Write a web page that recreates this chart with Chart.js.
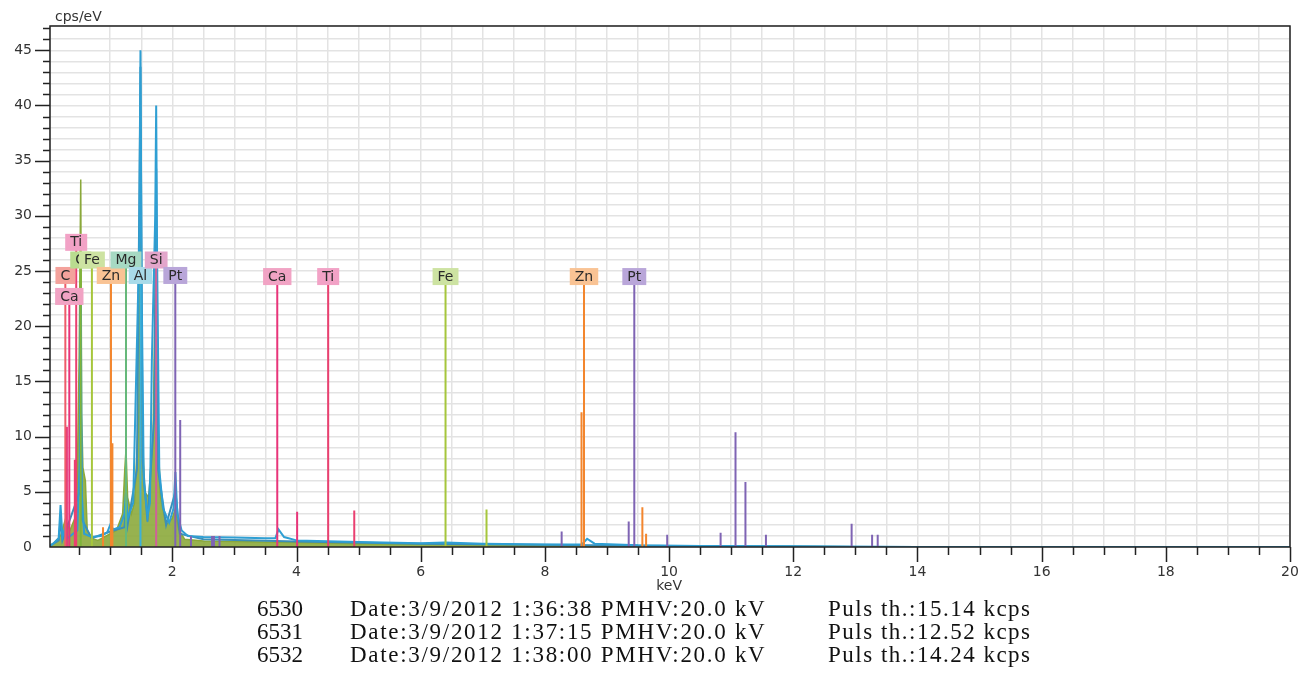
<!DOCTYPE html>
<html>
<head>
<meta charset="utf-8">
<title>EDS spectra</title>
<script src="https://cdn.jsdelivr.net/npm/chart.js@4.4.1/dist/chart.umd.min.js"></script>
<style>
  body { margin: 0; background: #fff; width: 1303px; height: 689px; overflow: hidden; position: relative; }
  #edsChart { position: absolute; left: 0; top: 0; }
  .info { position: absolute; font-family: "Liberation Serif", "Times New Roman", serif; font-size: 23px; line-height: 23px; color: #111; white-space: nowrap; }
</style>
</head>
<body>
<canvas id="edsChart" width="1303" height="600"></canvas>
<div id="info"></div>
<script>
/* ============================
   EDS SPECTRA (cps/eV vs keV)
============================ */

// ======== SPECTRA [keV, cps/eV] ========
const spec6530 = [
    [0, 0], [0.08, 0.3], [0.17, 0.8], [0.2, 3.8], [0.23, 0.9], [0.277, 1.8], [0.31, 0.8],
    [0.47, 1.5], [0.51, 8], [0.525, 23.5], [0.54, 5], [0.58, 1.2], [0.7, 0.9], [0.85, 1.0],
    [0.95, 1.3], [1.0, 2.0], [1.05, 1.6], [1.15, 1.8], [1.23, 3.0], [1.254, 5.0], [1.28, 2.6],
    [1.37, 4], [1.41, 13.6], [1.47, 28], [1.487, 45], [1.505, 24], [1.54, 6], [1.6, 2.8],
    [1.64, 4], [1.67, 16.8], [1.725, 30], [1.74, 40], [1.755, 26], [1.79, 7], [1.85, 3.5],
    [1.95, 2.2], [2.02, 3.5], [2.05, 6.8], [2.08, 3], [2.15, 1.5], [2.25, 1.0], [2.5, 0.9],
    [3.0, 0.85], [3.5, 0.8], [3.66, 0.8], [3.71, 1.6], [3.8, 0.9], [4.0, 0.6], [5.0, 0.45],
    [6.0, 0.35], [6.4, 0.4], [7.0, 0.3], [8.0, 0.22], [8.6, 0.25], [8.68, 0.75], [8.8, 0.3],
    [9.5, 0.15], [10.5, 0.1], [12, 0.06], [13, 0.03], [14, 0], [20, 0]
];
const spec6531 = [
    [0, 0], [0.17, 0.6], [0.2, 2.5], [0.23, 0.6], [0.51, 5], [0.525, 15], [0.545, 2.5],
    [0.7, 0.8], [1.0, 1.4], [1.23, 1.8], [1.254, 4], [1.28, 2], [1.43, 7], [1.487, 43.5],
    [1.52, 8], [1.6, 2.3], [1.71, 12], [1.74, 34.3], [1.77, 7], [1.9, 2], [2.05, 5],
    [2.12, 1.2], [2.5, 0.7], [4.0, 0.5], [6.0, 0.3], [8.0, 0.2], [10, 0.08], [13, 0.02],
    [14, 0], [20, 0]
];
const spec6532 = [
    [0, 0], [0.1, 0.4], [0.2, 1.0], [0.277, 2.5], [0.35, 1.5], [0.46, 3], [0.5, 17.4],
    [0.525, 33.3], [0.54, 12], [0.56, 7.2], [0.6, 6.0], [0.63, 1.5], [0.7, 0.8], [0.8, 0.6],
    [0.9, 0.9], [1.0, 1.2], [1.1, 1.5], [1.2, 3.0], [1.234, 7], [1.254, 8.8], [1.28, 4.5],
    [1.34, 3], [1.39, 4], [1.46, 12], [1.487, 38.5], [1.51, 12], [1.55, 5], [1.62, 4.5],
    [1.69, 10], [1.74, 29], [1.77, 10], [1.81, 4.5], [1.9, 2], [2.0, 2.6], [2.05, 3.5],
    [2.1, 1.6], [2.2, 0.7], [2.5, 0.55], [3, 0.5], [4, 0.4], [5, 0.3], [6, 0.25], [7, 0.2],
    [8, 0.15], [9, 0.1], [10, 0.08], [12, 0.04], [14, 0], [20, 0]
];

// ======== ELEMENT LINE MARKERS [keV, height] (first = tagged line) ========
const cK  = [[0.277, 24.6]];
const caL = [[0.341, 22.7], [0.302, 10.9]];
const tiL = [[0.452, 27.6], [0.43, 7.9]];
const oK  = [[0.525, 26.0]];
const feL = [[0.705, 26.0]];
const znL = [[1.012, 24.6], [1.035, 9.4], [0.884, 1.8]];
const mgK = [[1.254, 26.0]];
const alK = [[1.487, 24.6]];
const siK = [[1.740, 26.0]];
const ptM = [[2.048, 24.6], [2.127, 11.5], [2.30, 1.0], [2.64, 1.0], [2.67, 1.0], [2.76, 1.0]];
const caK = [[3.69, 24.5], [4.01, 3.2]];
const tiK = [[4.51, 24.5], [4.93, 3.3]];
const feK = [[6.40, 24.5], [7.06, 3.4]];
const znK = [[8.63, 24.5], [8.59, 12.2], [9.57, 3.6], [9.63, 1.2]];
const ptL = [[9.44, 24.5], [9.35, 2.3], [8.27, 1.4], [9.97, 1.1], [10.83, 1.3], [11.07, 10.4],
             [11.23, 5.9], [11.56, 1.1], [12.94, 2.1], [13.27, 1.1], [13.36, 1.1]];

// ======== INFO LINES ========
const specIds = ["6530", "6531", "6532"];
const specTimes = ["1:36:38", "1:37:15", "1:38:00"];
const specDate = "3/9/2012";
const specHV = "20.0";
const pulseRates = ["15.14", "12.52", "14.24"];

// ======== MARKER STYLES ========
const families = [
    { tag: "C",  lines: cK,  color: "#ee5b6a", bg: "#f4a29c" },
    { tag: "Ca", lines: caL, color: "#e8357a", bg: "#f1a3c4" },
    { tag: "Ti", lines: tiL, color: "#ea3f70", bg: "#f2a2c6" },
    { tag: "O",  lines: oK,  color: "#7fb33a", bg: "#b9dc8f" },
    { tag: "Fe", lines: feL, color: "#a6c63c", bg: "#cde3a2" },
    { tag: "Zn", lines: znL, color: "#f3862e", bg: "#f9c394" },
    { tag: "Mg", lines: mgK, color: "#66b87a", bg: "#a6d9c3" },
    { tag: "Al", lines: alK, color: "#3cb0d8", bg: "#a9dbe9" },
    { tag: "Si", lines: siK, color: "#d0609a", bg: "#e3a6cb" },
    { tag: "Pt", lines: ptM, color: "#7f64b4", bg: "#b9a6d9" },
    { tag: "Ca", lines: caK, color: "#e8357a", bg: "#f1a3c4" },
    { tag: "Ti", lines: tiK, color: "#ea3f70", bg: "#f2a2c6" },
    { tag: "Fe", lines: feK, color: "#a6c63c", bg: "#cde3a2" },
    { tag: "Zn", lines: znK, color: "#f3862e", bg: "#f9c394" },
    { tag: "Pt", lines: ptL, color: "#7f64b4", bg: "#b9a6d9" }
];

const FONT = "'DejaVu Sans', Verdana, sans-serif";

// each marker line: up from 0, then a gap
const markerDatasets = families.map((f) => ({
    data: f.lines.flatMap(([e, h]) => [[e, 0], [e, h], [e, null]]),
    borderColor: f.color,
    borderWidth: 2,
    pointRadius: 0,
    spanGaps: false,
    order: 0,
}));

// ======== PLUGINS ========
const framePlugin = {
    id: "frame",
    afterDraw(chart) {
        const { ctx, chartArea: a, scales } = chart;
        ctx.save();
        ctx.strokeStyle = "#222";
        ctx.lineWidth = 1.5;
        ctx.strokeRect(a.left, a.top, a.right - a.left, a.bottom - a.top);
        ctx.beginPath();
        for (let v = 0.5; v <= 20; v += 0.5) {
            const x = Math.round(scales.x.getPixelForValue(v)) + 0.5;
            const len = v % 2 === 0 ? 15 : 8;
            ctx.moveTo(x, a.bottom);
            ctx.lineTo(x, a.bottom + len);
        }
        for (let v = 1; v <= 47; v += 1) {
            const y = Math.round(scales.y.getPixelForValue(v)) + 0.5;
            const len = v % 5 === 0 ? 15 : 7;
            ctx.moveTo(a.left, y);
            ctx.lineTo(a.left - len, y);
        }
        ctx.stroke();
        // axis titles
        ctx.fillStyle = "#333";
        ctx.font = "14px " + FONT;
        ctx.textBaseline = "middle";
        ctx.textAlign = "left";
        ctx.fillText("cps/eV", a.left + 5, 17);
        ctx.textAlign = "center";
        ctx.fillText("keV", scales.x.getPixelForValue(10), 586);
        ctx.restore();
    },
};

const tagPlugin = {
    id: "tags",
    afterDatasetsDraw(chart) {
        const { ctx, scales } = chart;
        ctx.save();
        ctx.font = "14px " + FONT;
        ctx.textAlign = "center";
        ctx.textBaseline = "middle";
        families.forEach((f) => {
            const [e, h] = f.lines[0];
            const x = scales.x.getPixelForValue(e);
            const y = scales.y.getPixelForValue(h);
            const w = ctx.measureText(f.tag).width + 10;
            ctx.fillStyle = f.bg;
            ctx.fillRect(x - w / 2, y - 8.5, w, 17);
            ctx.fillStyle = "#2a2a2a";
            ctx.fillText(f.tag, x, y + 0.5);
        });
        ctx.restore();
    },
};

// ======== CHART ========
new Chart(document.getElementById("edsChart"), {
    type: "line",
    data: {
        datasets: [
            ...markerDatasets,
            { label: specIds[0], data: spec6530, borderColor: "#2f9fd3", borderWidth: 2, pointRadius: 0, order: 1 },
            { label: specIds[1], data: spec6531, borderColor: "#3b8fb8", borderWidth: 2, pointRadius: 0, order: 2 },
            {
                label: specIds[2], data: spec6532, borderColor: "#8aa83a", borderWidth: 1.5, pointRadius: 0,
                fill: "origin", backgroundColor: "rgba(140,170,60,0.9)", order: 3,
            },
        ],
    },
    options: {
        responsive: false,
        animation: false,
        layout: { padding: { top: 26, right: 13, left: 0, bottom: 13 } },
        plugins: { legend: { display: false }, tooltip: { enabled: false } },
        scales: {
            x: {
                type: "linear",
                min: 0.03,
                max: 20,
                afterFit: (s) => { s.height = 40; s.paddingLeft = 0; s.paddingRight = 0; },
                ticks: {
                    stepSize: 0.5,
                    autoSkip: false,
                    maxRotation: 0,
                    padding: 17,
                    color: "#333",
                    font: { family: FONT, size: 14 },
                    callback: (v) => (v % 2 === 0 && v > 0 ? v : ""),
                },
                grid: { color: "#e3e3e3", lineWidth: 1.5, drawTicks: false },
                border: { display: false },
            },
            y: {
                min: 0,
                max: 47.2,
                afterFit: (s) => { s.width = 50; s.paddingTop = 0; s.paddingBottom = 0; },
                ticks: {
                    stepSize: 1,
                    autoSkip: false,
                    padding: 18,
                    color: "#333",
                    font: { family: FONT, size: 14 },
                    callback: (v) => (v % 5 === 0 ? v : ""),
                },
                grid: { color: "#e3e3e3", lineWidth: 1.5, drawTicks: false },
                border: { display: false },
            },
        },
    },
    plugins: [tagPlugin, framePlugin],
});

// ======== INFO TEXT ========
const info = document.getElementById("info");
specIds.forEach((id, i) => {
    const top = 597 + i * 23;
    const cols = [
        [257, id, 0],
        [350, "Date:" + specDate + " " + specTimes[i] + " PMHV:" + specHV + " kV", 1.7],
        [828, "Puls th.:" + pulseRates[i] + " kcps", 1.5],
    ];
    cols.forEach(([left, text, spacing]) => {
        const d = document.createElement("div");
        d.className = "info";
        d.style.left = left + "px";
        d.style.top = top + "px";
        d.style.letterSpacing = spacing + "px";
        d.textContent = text;
        info.appendChild(d);
    });
});
</script>
</body>
</html>
